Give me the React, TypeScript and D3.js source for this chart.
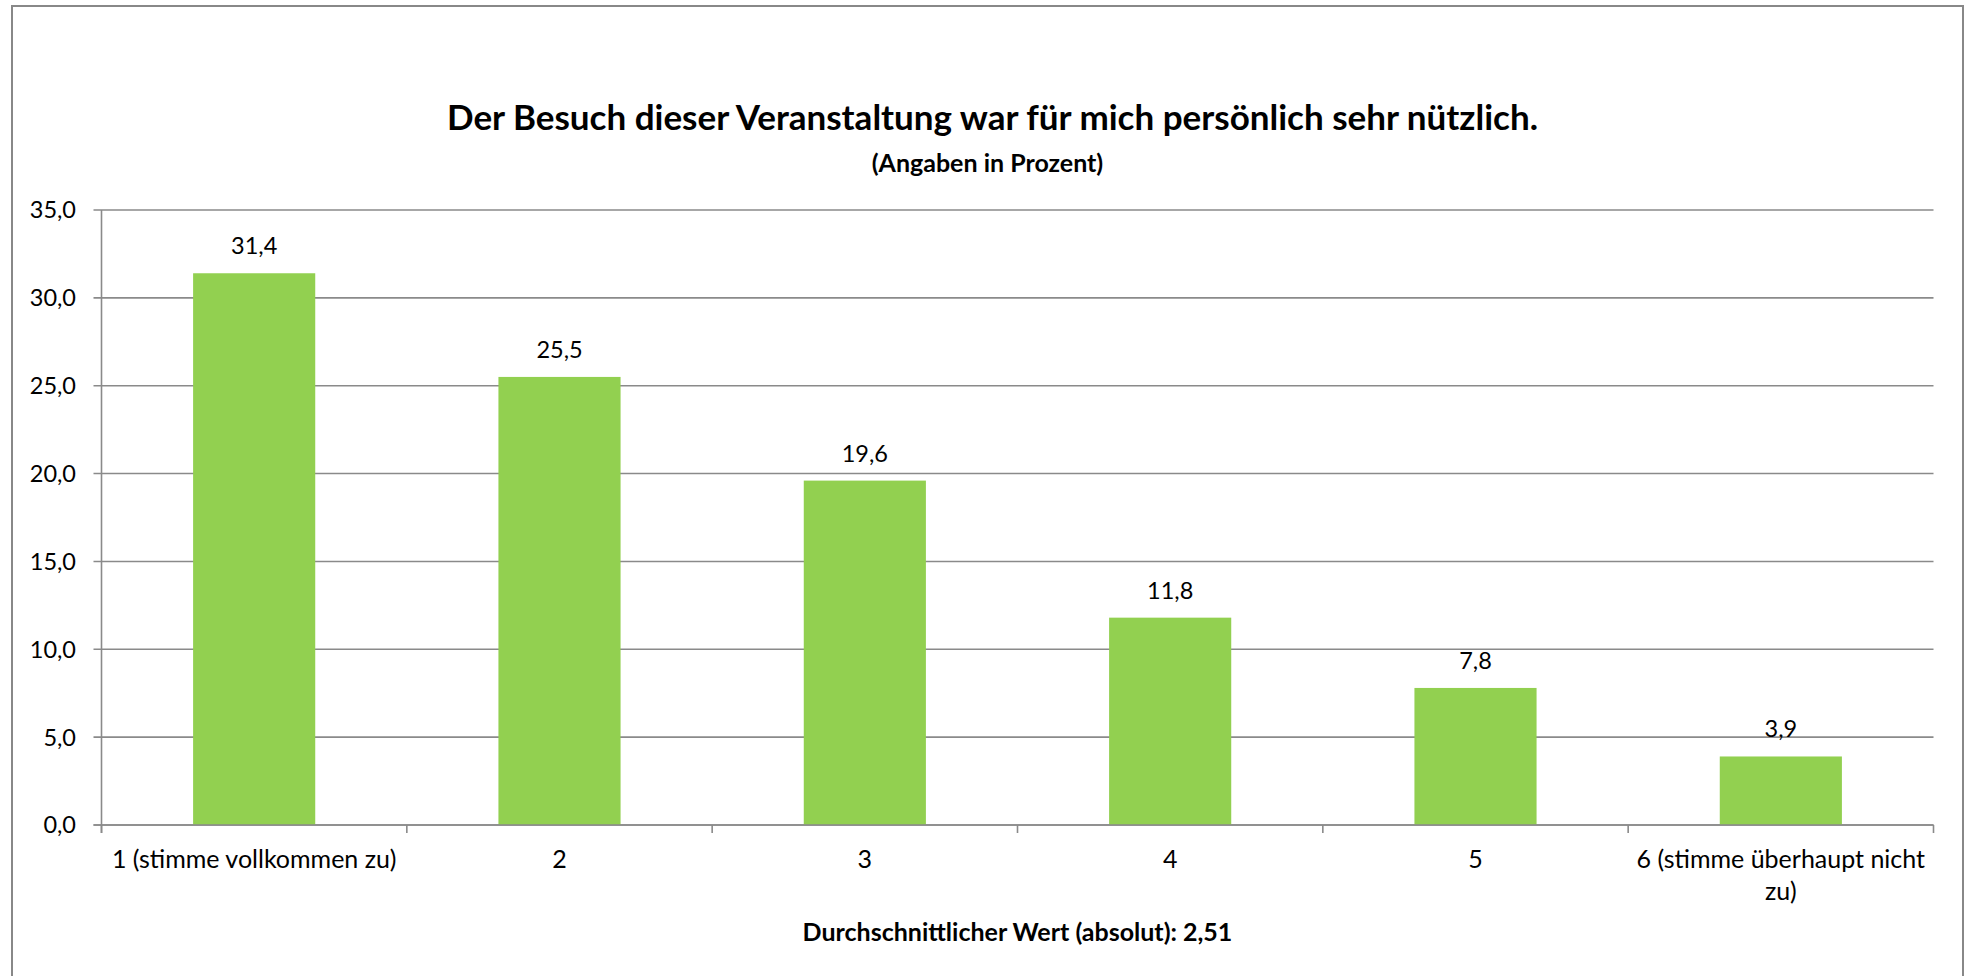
import React from "react";
import * as d3 from "d3";

const categories: string[] = [
  "1 (stimme vollkommen zu)",
  "2",
  "3",
  "4",
  "5",
  "6 (stimme überhaupt nicht zu)",
];
const categoryLines: string[][] = [
  ["1 (stimme vollkommen zu)"],
  ["2"],
  ["3"],
  ["4"],
  ["5"],
  ["6 (stimme überhaupt nicht", "zu)"],
];
const values: number[] = [31.4, 25.5, 19.6, 11.8, 7.8, 3.9];
const yTicks: number[] = [0, 5, 10, 15, 20, 25, 30, 35];
const title = "Der Besuch dieser Veranstaltung war für mich persönlich sehr nützlich.";
const subtitle = "(Angaben in Prozent)";
const footer = "Durchschnittlicher Wert (absolut): 2,51";

const W = 1966;
const H = 976;
const plot = { left: 101.5, right: 1933.5, top: 210, bottom: 825 };
const FONT = "Lato, 'Open Sans', sans-serif";
const GRID = "#8a8a8a";
const BAR = "#92D050";

const fmt = (v: number) => v.toFixed(1).replace(".", ",");

export default function App() {
  const x = d3
    .scaleBand<string>()
    .domain(categories)
    .range([plot.left, plot.right])
    .padding(0);
  const y = d3.scaleLinear().domain([0, 35]).range([plot.bottom, plot.top]);
  const step = x.step();
  const barW = step * 0.4;
  const boundaries = d3.range(categories.length + 1).map((i) => plot.left + i * step);

  return (
    <svg
      width={W}
      height={H}
      style={{ position: "absolute", left: 0, top: 0, display: "block", background: "#fff" }}
      fontFamily={FONT}
    >
      <rect x={0} y={0} width={W} height={H} fill="#fff" />
      <rect x={12} y={6} width={1951} height={1000} fill="#fff" stroke="#888" strokeWidth={2} />

      <text x={992.5} y={130} textAnchor="middle" fontSize={35} fontWeight="bold" fill="#000">
        {title}
      </text>
      <text x={987.5} y={172} textAnchor="middle" fontSize={25} fontWeight="bold" fill="#000">
        {subtitle}
      </text>

      {/* gridlines */}
      {yTicks.map((t) => (
        <line
          key={"g" + t}
          x1={plot.left - 8}
          x2={plot.right}
          y1={y(t)}
          y2={y(t)}
          stroke={GRID}
          strokeWidth={1.6}
        />
      ))}
      {/* y axis */}
      <line x1={plot.left} x2={plot.left} y1={plot.top} y2={plot.bottom + 8} stroke={GRID} strokeWidth={1.6} />
      {yTicks.map((t) => (
        <text key={"yl" + t} x={76} y={y(t)} dy="0.36em" textAnchor="end" fontSize={23.5} fill="#000">
          {fmt(t)}
        </text>
      ))}
      {/* x ticks */}
      {boundaries.map((b, i) => (
        <line key={"xt" + i} x1={b} x2={b} y1={plot.bottom} y2={plot.bottom + 8} stroke={GRID} strokeWidth={1.6} />
      ))}

      {/* bars */}
      {categories.map((c, i) => {
        const cx = (x(c) as number) + step / 2;
        return (
          <g key={"b" + i}>
            <rect x={cx - barW / 2} y={y(values[i])} width={barW} height={plot.bottom - y(values[i])} fill={BAR} />
            <text x={cx} y={y(values[i]) - 19} textAnchor="middle" fontSize={23.5} fill="#000">
              {fmt(values[i])}
            </text>
          </g>
        );
      })}
      {/* redraw baseline over bars */}
      <line x1={plot.left - 8} x2={plot.right} y1={plot.bottom} y2={plot.bottom} stroke={GRID} strokeWidth={1.6} />

      {/* x labels */}
      {categories.map((c, i) => {
        const cx = (x(c) as number) + step / 2;
        return (
          <text key={"xl" + i} x={cx} y={868} textAnchor="middle" fontSize={25} fill="#000">
            {categoryLines[i].map((ln, j) => (
              <tspan key={j} x={cx} dy={j === 0 ? 0 : 32}>
                {ln}
              </tspan>
            ))}
          </text>
        );
      })}

      <text x={(plot.left + plot.right) / 2} y={941} textAnchor="middle" fontSize={25} fontWeight="bold" fill="#000">
        {footer}
      </text>
    </svg>
  );
}
